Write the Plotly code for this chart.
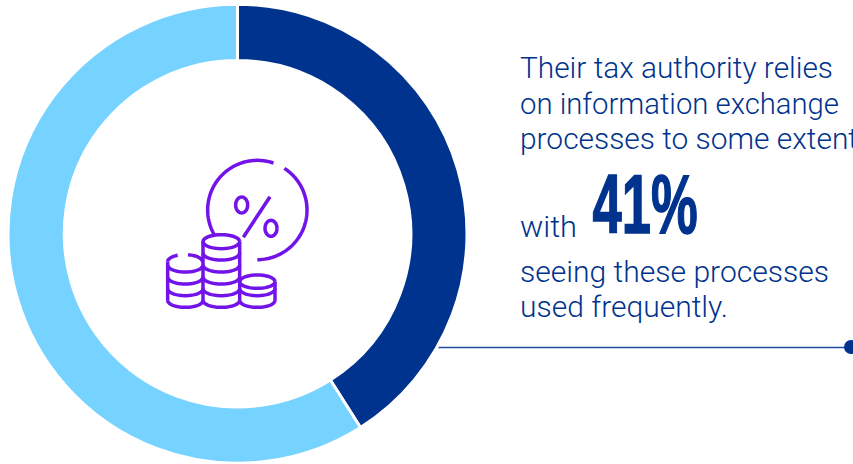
import json
import math
import plotly.graph_objects as go

shares = [41, 59]
share_names = ["Used frequently", "Other"]
share_colors = ["#00338D", "#76D2FF"]
text_lines = [
    ("Their tax authority relies", 518, 68, 313),
    ("on information exchange", 518, 104, 319),
    ("processes to some extent", 518, 139, 338),
    ("with", 518, 227, 57),
    ("seeing these processes", 518, 272, 309),
    ("used frequently.", 518, 306.5, 208),
]
headline = "41%"

W, H = 853, 464
BLUE = "#00338D"
PURPLE = "#7213EA"


def zx(v):
    return 150 + v / 3


def zy(v):
    return 150 + v / 3


def arc(cx, cy, rx, ry, a0, a1, n=40):
    pts = []
    for i in range(n + 1):
        a = math.radians(a0 + (a1 - a0) * i / n)
        pts.append((zx(cx + rx * math.cos(a)), zy(cy + ry * math.sin(a))))
    return pts


def path(pts):
    return "M" + " L".join(f"{x:.2f},{y:.2f}" for x, y in pts)


icon = []
icon.append(path(arc(322, 180, 149, 149, 149, 289, 70)))
icon.append(path(arc(322, 180, 149, 149, 303, 450, 70)))
icon.append(path(arc(275, 165, 18, 24, 0, 360)))
icon.append(path(arc(363, 235, 18, 24, 0, 360)))
icon.append(path([(zx(360), zy(140)), (zx(280), zy(262))]))
# middle stack
icon.append(path(arc(214, 275, 55, 21, 0, 360)))
icon.append(path([(zx(159), zy(275)), (zx(159), zy(452))]))
icon.append(path([(zx(269), zy(275)), (zx(269), zy(452))]))
for y in (309, 345, 381, 416, 451):
    icon.append(path(arc(214, y, 55, 21, 0, 180)))
# left stack
icon.append(path(arc(105, 335, 52, 21, 180, 245, 15)))
icon.append(path(arc(105, 335, 52, 21, 280, 360, 15)))
icon.append(path([(zx(53), zy(335)), (zx(53), zy(452))]))
for y in (345, 381, 416, 451):
    icon.append(path(arc(106, y, 53, 21, 0, 180)))
# right stack
icon.append(path(arc(322, 395, 53, 20, 0, 360)))
icon.append(path([(zx(375), zy(395)), (zx(375), zy(452))]))
for y in (416, 451):
    icon.append(path(arc(322, y, 53, 21, 0, 180)))

shapes = [
    dict(type="path", path=p, xref="x", yref="y", line=dict(color=PURPLE, width=3.5), layer="above")
    for p in icon
]
shapes.append(dict(type="line", xref="x", yref="y", x0=430, x1=849, y0=347.5, y1=347.5,
                   line=dict(color="#1F4E9F", width=1.5), layer="below"))
shapes.append(dict(type="circle", xref="x", yref="y", x0=844, x1=858, y0=340, y1=354,
                   fillcolor=BLUE, line=dict(width=0)))

annotations = [
    dict(text=t, x=x, y=y, xref="x", yref="y", xanchor="left", yanchor="middle", showarrow=False,
         font=dict(family="Roboto", size=29, color=BLUE, weight=300), align="left")
    for t, x, y, _ in text_lines
]
annotations.append(dict(text=f"<b>{headline}</b>", x=644.5, y=204, xref="x", yref="y", xanchor="center",
                        yanchor="middle", showarrow=False,
                        font=dict(family="Liberation Sans", size=84, color=BLUE)))

fig = go.Figure()
fig.add_trace(go.Pie(
    values=shares, labels=share_names, hole=0.755, sort=False, direction="clockwise", rotation=0,
    marker=dict(colors=share_colors, line=dict(color="white", width=3)),
    textinfo="none", hoverinfo="label+percent", showlegend=False,
    domain=dict(x=[8 / W, 467 / W], y=[0.5 / H, (H - 4) / H]),
))
fig.add_trace(go.Scatter(x=[0, W], y=[0, H], mode="markers", marker=dict(opacity=0),
                         hoverinfo="skip", showlegend=False))
fig.update_layout(
    width=W, height=H, margin=dict(l=0, r=0, t=0, b=0), paper_bgcolor="white", plot_bgcolor="rgba(0,0,0,0)",
    xaxis=dict(range=[0, W], visible=False, fixedrange=True),
    yaxis=dict(range=[H, 0], visible=False, fixedrange=True),
    shapes=shapes, annotations=annotations,
)
widths = {t: w for t, _, _, w in text_lines}
widths[headline] = 105
post = """
var s=document.createElement('style');s.textContent='html,body{margin:0;overflow:hidden}';document.head.appendChild(s);
var W=%s;
document.querySelectorAll('.annotation-text').forEach(function(t){
  var w=W[t.textContent]; if(!w) return;
  t.setAttribute('textLength',w);t.setAttribute('lengthAdjust','spacingAndGlyphs');
  t.querySelectorAll('tspan').forEach(function(u){u.setAttribute('textLength',w);u.setAttribute('lengthAdjust','spacingAndGlyphs');});
  if(t.textContent==='41%%'){t.style.stroke='#00338D';t.style.strokeWidth='1.5px';}
});
""" % json.dumps(widths)
fig.write_html("out.html", post_script=post, config=dict(displayModeBar=False))
